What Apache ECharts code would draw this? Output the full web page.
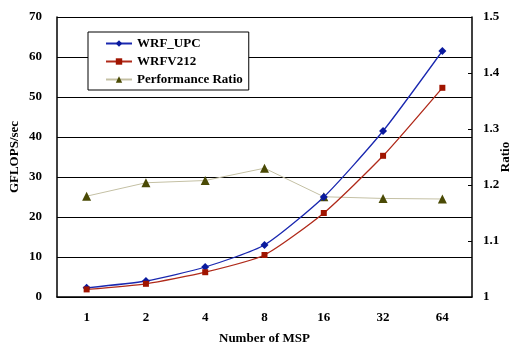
<!DOCTYPE html>
<html>
<head>
<meta charset="utf-8">
<script src="https://cdn.jsdelivr.net/npm/echarts@6/dist/echarts.min.js"></script>
<style>
html, body { margin: 0; padding: 0; background: #fff; }
#main { width: 517px; height: 344px; }
</style>
</head>
<body>
<div id="main"></div>
<script>
var msp = ['1', '2', '4', '8', '16', '32', '64'];
var wrfUpc = [2.3, 4.0, 7.5, 13.0, 25.0, 41.5, 61.5];
var wrfV212 = [1.9, 3.3, 6.2, 10.5, 21.0, 35.3, 52.3];
var perfRatio = [1.180, 1.204, 1.208, 1.230, 1.179, 1.176, 1.175];

var font = 'Liberation Serif';
var myChart = echarts.init(document.getElementById('main'));
var option = {
    animation: false,
    textStyle: { fontFamily: font },
    grid: { left: 57, right: 45, top: 17, bottom: 47, outerBoundsMode: 'none', containLabel: false },
    legend: {
        orient: 'vertical',
        left: 88,
        top: 32,
        padding: [5, 6, 4, 17],
        itemGap: 5,
        itemWidth: 26,
        itemHeight: 8,
        borderColor: '#000',
        borderWidth: 1,
        backgroundColor: '#fff',
        textStyle: { fontFamily: font, fontWeight: 'bold', fontSize: 13, color: '#000' },
        data: ['WRF_UPC', 'WRFV212', 'Performance Ratio']
    },
    xAxis: {
        type: 'category',
        data: msp,
        name: 'Number of MSP',
        nameLocation: 'middle',
        nameGap: 35,
        nameMoveOverlap: false,
        nameTextStyle: { fontFamily: font, fontWeight: 'bold', fontSize: 13, color: '#000' },
        axisLine: { lineStyle: { color: '#000', width: 1.5 } },
        axisTick: { show: false },
        axisLabel: { margin: 14, fontFamily: font, fontWeight: 'bold', fontSize: 13, color: '#000' }
    },
    yAxis: [{
        type: 'value',
        min: 0,
        max: 70,
        interval: 10,
        name: 'GFLOPS/sec',
        nameLocation: 'middle',
        nameGap: 36,
        nameMoveOverlap: false,
        nameTextStyle: { fontFamily: font, fontWeight: 'bold', fontSize: 13, color: '#000' },
        axisLine: { show: true, lineStyle: { color: '#000', width: 1.5 } },
        axisTick: { show: false },
        axisLabel: { margin: 15, fontFamily: font, fontWeight: 'bold', fontSize: 13, color: '#000' },
        splitLine: { lineStyle: { color: '#000', width: 1 } }
    }, {
        type: 'value',
        min: 1,
        max: 1.5,
        interval: 0.1,
        name: 'Ratio',
        nameLocation: 'middle',
        nameGap: 27,
        nameMoveOverlap: false,
        nameTextStyle: { fontFamily: font, fontWeight: 'bold', fontSize: 13, color: '#000' },
        axisLine: { show: true, lineStyle: { color: '#000', width: 1.5 } },
        axisTick: { show: true, inside: true, length: 4, lineStyle: { color: '#000' } },
        axisLabel: {
            margin: 11, fontFamily: font, fontWeight: 'bold', fontSize: 13, color: '#000',
            formatter: function (v) { return String(Math.round(v * 10) / 10); }
        },
        splitLine: { show: false }
    }],
    series: [{
        name: 'WRF_UPC',
        type: 'line',
        data: wrfUpc,
        smooth: 0.2,
        symbol: 'diamond',
        symbolSize: 8,
        lineStyle: { color: '#1a28b0', width: 1.3 },
        itemStyle: { color: '#0a1a9e' },
        z: 3
    }, {
        name: 'WRFV212',
        type: 'line',
        data: wrfV212,
        smooth: 0.2,
        symbol: 'rect',
        symbolSize: 6,
        lineStyle: { color: '#b02a1a', width: 1.3 },
        itemStyle: { color: '#a01400' },
        z: 3
    }, {
        name: 'Performance Ratio',
        type: 'line',
        yAxisIndex: 1,
        data: perfRatio,
        symbol: 'triangle',
        symbolSize: 9,
        lineStyle: { color: '#c4c0a4', width: 1 },
        itemStyle: { color: '#4a4a05' },
        z: 2
    }]
};
myChart.setOption(option);
</script>
</body>
</html>
